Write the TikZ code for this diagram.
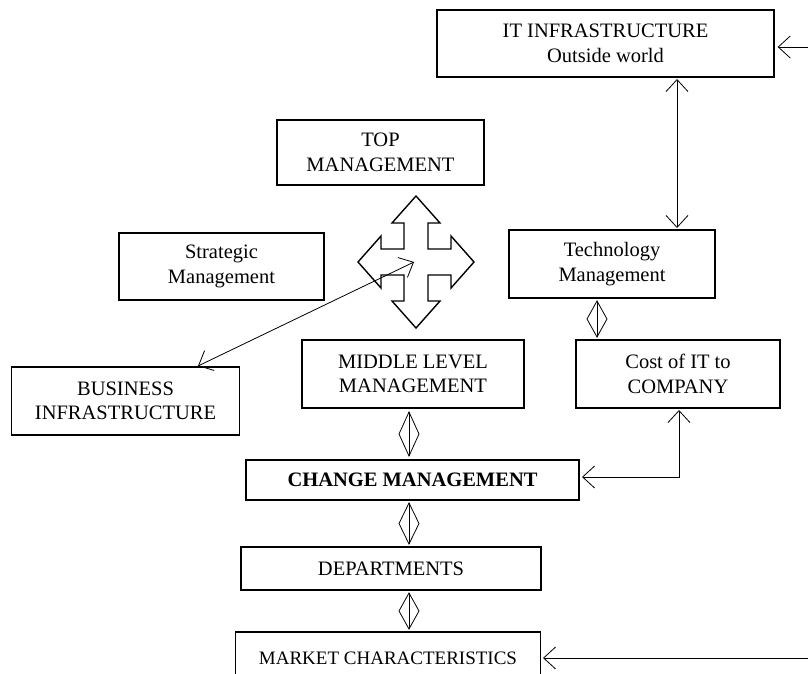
\documentclass[tikz,border=0pt]{standalone}
\usepackage{fontspec}
\setmainfont{Liberation Serif}
\usetikzlibrary{arrows.meta,calc}
\tikzset{
  box/.style={draw, line width=1.3pt, align=center, inner sep=0pt, font=\fontsize{20.5}{24.5}\selectfont},
  conn/.style={line width=0.8pt, {Straight Barb[length=12pt,width=22pt]}-{Straight Barb[length=12pt,width=22pt]}},
  oneway/.style={line width=0.8pt, -{Straight Barb[length=12pt,width=22pt]}},
  crossarrow/.style={draw, line width=1.4pt, fill=white, line join=miter},
  diam/.style={line width=0.8pt}
}
\newcommand\dblarrow[3]{%
  \draw[diam] (#1) -- (#2);
  \draw[diam] ($(#1)!0.5!(#2)+(-#3,0)$) -- (#1) -- ($(#1)!0.5!(#2)+(#3,0)$) -- (#2) -- cycle;}
\begin{document}
\begin{tikzpicture}[x=1pt,y=-1pt]
\useasboundingbox (0,0) rectangle (808,674);
\begin{scope}
\clip (0,0) rectangle (808,674);
% boxes
\node[box, minimum width=337pt, minimum height=67pt] (it) at (605.5,43.5) {IT INFRASTRUCTURE\\Outside world};
\node[box, minimum width=207pt, minimum height=65pt] (top) at (380.5,152.5) {TOP\\MANAGEMENT};
\node[box, minimum width=205pt, minimum height=67pt] (strat) at (221.5,266.5) {Strategic\\Management};
\node[box, minimum width=206pt, minimum height=68pt] (tech) at (612,264) {Technology\\Management};
\node[box, minimum width=222pt, minimum height=68pt] (mid) at (413,374) {MIDDLE LEVEL\\MANAGEMENT};
\node[box, minimum width=228pt, minimum height=68pt] (biz) at (125.5,401) {BUSINESS\\INFRASTRUCTURE};
\node[box, minimum width=204pt, minimum height=68pt] (cost) at (678,374) {Cost of IT to\\COMPANY};
\node[box, minimum width=333pt, minimum height=40pt, font=\fontsize{20.5}{24.5}\selectfont\bfseries] (chg) at (412.5,480) {CHANGE MANAGEMENT};
\node[box, minimum width=300pt, minimum height=43pt] (dep) at (391,568.5) {DEPARTMENTS};
\node[box, minimum width=305pt, minimum height=52pt, font=\fontsize{19}{24}\selectfont] (mkt) at (388,658) {MARKET CHARACTERISTICS};

% four-way arrow
\coordinate (cc) at (416,262);
\draw[crossarrow] ($(cc)+(0,-66)$) -- ++(24,27) -- ++(-12,0) -- ++(0,26) -- ++(23,0) -- ++(0,-13)
  -- ++(23,26) -- ++(-23,26) -- ++(0,-13) -- ++(-23,0) -- ++(0,26) -- ++(12,0)
  -- ++(-24,27) -- ++(-24,-27) -- ++(12,0) -- ++(0,-26) -- ++(-23,0) -- ++(0,13)
  -- ++(-23,-26) -- ++(23,-26) -- ++(0,13) -- ++(23,0) -- ++(0,-26) -- ++(-12,0) -- cycle;

% connectors
\coordinate (crossend) at (414,262);
\coordinate (bizend) at (198,366);
\draw[conn] (crossend) -- (bizend);

\coordinate (itright) at (808,47);
\draw[oneway] (itright) -- ($(it.east)+(3,3.5)$);
\coordinate (itdown) at (677,79);
\coordinate (techup) at (677,228);
\draw[conn] (itdown) -- (techup);

\coordinate (costdown) at (679,410);
\coordinate (chgright) at (582,477);
\draw[conn] (costdown) |- (chgright);

\coordinate (mktright) at (808,658);
\coordinate (mktin) at (543,658);
\draw[oneway] (mktright) -- (mktin);

% diamond double arrows
\coordinate (d1a) at (409,412); \coordinate (d1b) at (409,456);
\dblarrow{d1a}{d1b}{10}
\coordinate (d2a) at (409,503); \coordinate (d2b) at (409,544);
\dblarrow{d2a}{d2b}{10}
\coordinate (d3a) at (409,593); \coordinate (d3b) at (409,629);
\dblarrow{d3a}{d3b}{10}
\coordinate (d4a) at (597,301); \coordinate (d4b) at (597,337);
\dblarrow{d4a}{d4b}{10}
\end{scope}
\end{tikzpicture}
\end{document}
